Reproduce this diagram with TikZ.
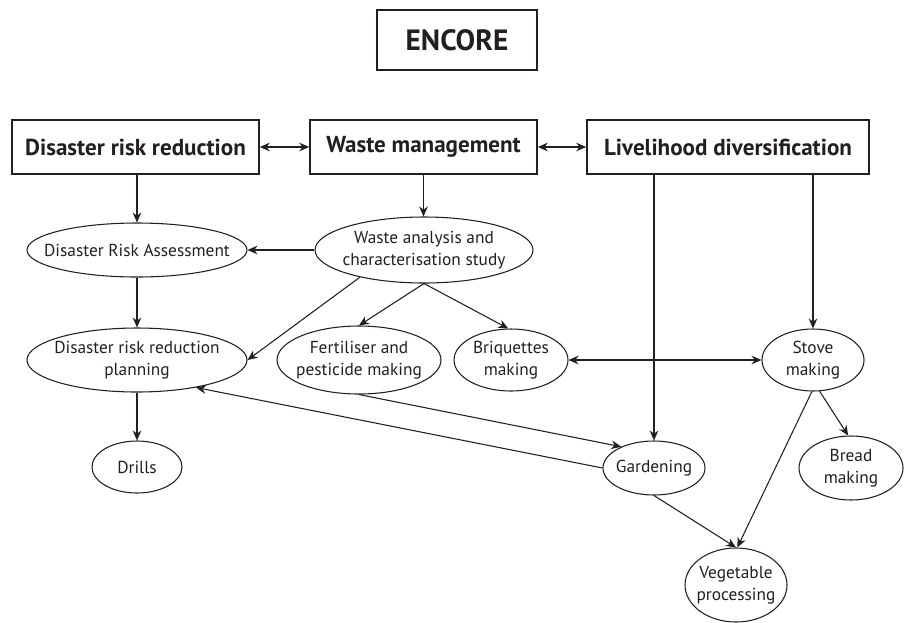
\documentclass[tikz,border=0pt]{standalone}
\usepackage{fontspec}
\setmainfont{PT Sans}
\usetikzlibrary{shapes.geometric,arrows.meta}
\definecolor{ink}{HTML}{231F20}
\tikzset{
  every node/.style={text=ink},
  bigbox/.style={draw=ink,line width=1.2pt,rectangle,inner sep=0pt,font=\bfseries\fontsize{17.3}{19}\selectfont},
  lab/.style={align=center,inner sep=0pt,font=\fontsize{13}{16.5}\selectfont},
  ell/.style={draw=ink,line width=0.8pt,ellipse,inner sep=0pt,label={[lab]center:#1}},
  arr/.style={draw=ink,line width=0.8pt,-{Stealth[length=7.5pt,width=6.5pt]}},
  darr/.style={draw=ink,line width=0.8pt,{Stealth[length=7.5pt,width=6.5pt]}-{Stealth[length=7.5pt,width=6.5pt]}}
}
\begin{document}
\begin{tikzpicture}[x=0.75pt,y=-0.75pt]
\useasboundingbox (0,0) rectangle (906,622);
% title
\node[draw=ink,line width=2pt,minimum width=160*0.75pt,minimum height=60*0.75pt,inner sep=0pt,font=\bfseries\fontsize{22}{24}\selectfont] (enc) at (457,40) {ENCORE};
% top boxes
\node[bigbox,minimum width=247*0.75pt,minimum height=54*0.75pt] (drr) at (135.5,147) {Disaster risk reduction};
\node[bigbox,minimum width=227*0.75pt,minimum height=54*0.75pt] (wm) at (423.5,147) {Waste management};
\node[bigbox,minimum width=282*0.75pt,minimum height=54*0.75pt] (ld) at (728,147) {Livelihood diversification};
% ellipses
\node[ell={Disaster Risk Assessment},minimum width=220*0.75pt,minimum height=54*0.75pt] (dra) at (137,250) {};
\node[ell={Waste analysis and\\characterisation study},minimum width=218*0.75pt,minimum height=66*0.75pt] (wa) at (424,250) {};
\node[ell={Disaster risk reduction\\planning},minimum width=220*0.75pt,minimum height=64*0.75pt] (drrp) at (137,360) {};
\node[ell={Fertiliser and\\pesticide making},minimum width=164*0.75pt,minimum height=68*0.75pt] (fert) at (359,360) {};
\node[ell={Briquettes\\making},minimum width=114*0.75pt,minimum height=62*0.75pt] (briq) at (511,360) {};
\node[ell={Stove\\making},minimum width=102*0.75pt,minimum height=62*0.75pt] (stove) at (813,360) {};
\node[ell={Drills},minimum width=90*0.75pt,minimum height=52*0.75pt] (drills) at (137,467) {};
\node[ell={Gardening},minimum width=102*0.75pt,minimum height=54*0.75pt] (garden) at (654,468) {};
\node[ell={Bread\\making},minimum width=104*0.75pt,minimum height=64*0.75pt] (bread) at (851,468) {};
\node[ell={Vegetable\\processing},minimum width=102*0.75pt,minimum height=74*0.75pt] (veg) at (736,585) {};
% connectors
\draw[darr] (drr.east) -- (wm.west);
\draw[darr] (wm.east) -- (ld.west);
\draw[arr] (dra.north |- drr.south) -- (dra.north);
\draw[arr] (wm.south) -- (wa.north -| wm.south);
\draw[arr] (wa.west) -- (dra.east);
\draw[arr] (dra.south) -- (drrp.north);
\draw[arr] (drrp.south) -- (drills.north);
\draw[arr] (wa.203) -- (drrp.east);
\draw[arr] (wa.south) -- (fert.north);
\draw[arr] (wa.south) -- (briq.95);
\draw[darr] (briq.east) -- (stove.west);
\draw[arr] (garden.north |- ld.south) -- (garden.north);
\draw[arr] (stove.north |- ld.south) -- (stove.north);
\draw[arr] (fert.south) -- (garden.147);
\draw[arr] (garden.west) -- (drrp.335);
\draw[arr] (garden.south) -- (veg.north);
\draw[arr] (stove.268) -- (veg.88);
\draw[arr] (stove.282) -- (bread.95);
\end{tikzpicture}
\end{document}
